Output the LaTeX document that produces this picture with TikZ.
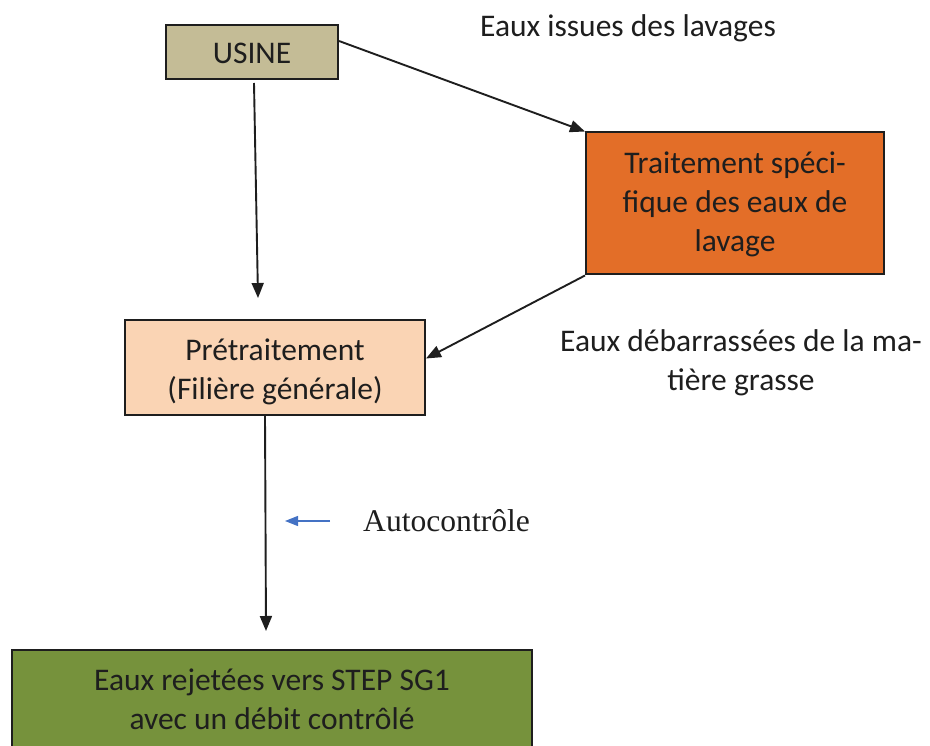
\documentclass[tikz,border=0pt]{standalone}
\usepackage{fontspec}
\setmainfont{Carlito}
\newfontfamily\timesfont{Liberation Serif}
\usetikzlibrary{arrows.meta}
\definecolor{txt}{HTML}{1E1E1E}
\definecolor{usinefill}{HTML}{C4BC96}
\definecolor{traitfill}{HTML}{E36E28}
\definecolor{prefill}{HTML}{FAD4B4}
\definecolor{greenfill}{HTML}{76923C}
\definecolor{bluearrow}{HTML}{4472C4}
\newcommand{\shiftlines}[2]{\raisebox{#1}[\height][\depth]{\begin{tabular}{@{}c@{}}#2\end{tabular}}}
\tikzset{
  boxnode/.style={draw=txt, line width=2pt, text=txt, align=center, inner sep=0pt,
    font=\fontsize{31.5}{39}\selectfont},
  lbl/.style={text=txt, align=center, inner sep=0pt, font=\fontsize{31.5}{39}\selectfont},
  conn/.style={draw=txt, line width=1.9pt, -{Triangle[length=15pt,width=12pt]}},
}
\begin{document}
\begin{tikzpicture}[x=1pt,y=-1pt]
\useasboundingbox (0,0) rectangle (930,746);
\node[boxnode, fill=usinefill, minimum width=172pt, minimum height=54pt] (usine) at (252,52) {\shiftlines{-4pt}{USINE}};
\node[boxnode, fill=traitfill, minimum width=298pt, minimum height=142pt] (trait) at (735,203.5)
  {\shiftlines{-1pt}{Traitement spéci-\\fique des eaux de\\lavage}};
\node[boxnode, fill=prefill, minimum width=300pt, minimum height=95pt] (pre) at (275,367.5)
  {\shiftlines{-5pt}{Prétraitement\\(Filière générale)}};
\node[boxnode, fill=greenfill, minimum width=520pt, minimum height=104pt] (green) at (272,702)
  {\shiftlines{0pt}{Eaux rejetées vers STEP SG1\\avec un débit contrôlé}};
\node[lbl] (l1) at (628,28) {Eaux issues des lavages};
\node[lbl] (l2) at (741,363) {\shiftlines{0pt}{Eaux débarrassées de la ma-\\tière grasse}};
\node[text=txt, inner sep=0pt, anchor=west, font=\timesfont\fontsize{31.6}{38}\selectfont] (auto) at (363,521) {Autocontrôle};
\coordinate (u1) at (254,83);
\coordinate (p1) at (258,298);
\coordinate (g1) at (266,631);
\coordinate (b0) at (330,521);
\coordinate (b1) at (285,521);
\draw[conn] (u1) -- (p1);
\draw[conn] ([yshift=11pt]usine.east) -- (trait.north west);
\draw[conn] (trait.south west) -- ([yshift=9pt]pre.east);
\draw[conn] ([xshift=-10pt]pre.south) -- (g1);
\draw[draw=bluearrow, line width=1.2pt, -{Triangle[length=13pt,width=10pt]}] (b0) -- (b1);
\end{tikzpicture}
\end{document}
